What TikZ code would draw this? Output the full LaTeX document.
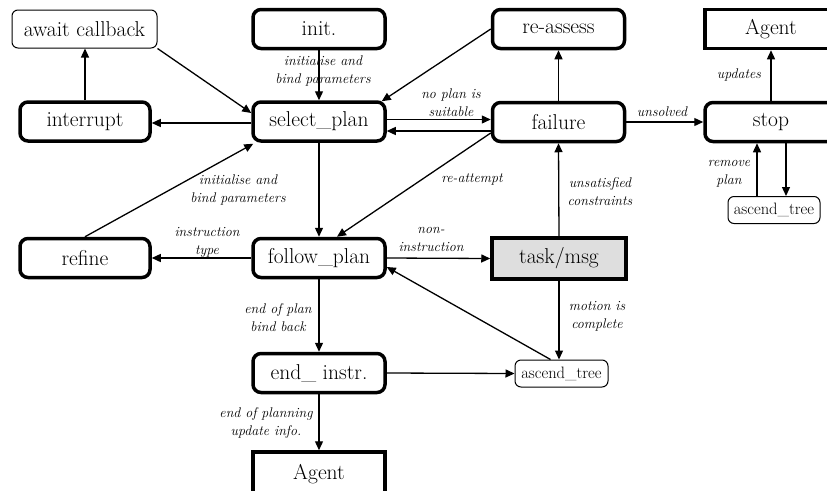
\documentclass[tikz,border=0pt]{standalone}
\usetikzlibrary{arrows.meta}
\begin{document}
\begin{tikzpicture}[x=1pt,y=-1pt,
  every node/.style={font=\rmfamily\fontsize{21.5}{26}\selectfont, inner sep=0pt, align=center},
  state/.style={draw, line width=3.5pt, rounded corners=8pt, minimum width=132pt, minimum height=39pt},
  sink/.style={draw, line width=3.5pt, minimum width=132pt, minimum height=39pt},
  light/.style={draw, line width=1pt, rounded corners=6pt, minimum height=27pt},
  small/.style={font=\rmfamily\fontsize{16.5}{20}\selectfont},
  lbl/.style={font=\rmfamily\fontsize{14}{18}\selectfont\itshape},
  conn/.style={line width=1.3pt, -{Triangle[length=9pt,width=8pt]}},
]
\useasboundingbox (0,0) rectangle (827,490);
\clip (0,0) rectangle (827,490);

% states
\node[light, minimum width=145pt, minimum height=38pt] (await) at (84.5,29) {await callback};
\node[state] (init) at (319,29) {init.};
\node[state] (reassess) at (558.5,29) {re-assess};
\node[sink] (agenttop) at (771,29) {Agent};
\node[state, minimum width=130pt] (interrupt) at (85,121.5) {interrupt};
\node[state] (select) at (319,121.5) {select\_plan};
\node[state] (failure) at (558.5,122) {failure};
\node[state] (stop) at (771,122) {stop};
\node[light, small, minimum width=92pt] (ascR) at (774,210) {ascend\_tree};
\node[state, minimum width=130pt] (refine) at (85,258) {refine};
\node[state] (follow) at (319,258) {follow\_plan};
\node[sink, fill={rgb,255:red,222;green,222;blue,222}, minimum width=134pt, minimum height=41pt] (task) at (559,258.5) {task/msg};
\node[state] (endinstr) at (319,373) {end\_ instr.};
\node[sink, minimum height=44pt] (agentbot) at (319,474) {Agent};
\node[light, small, minimum width=93pt] (ascM) at (561.5,373.5) {ascend\_tree};

% transitions
\draw[conn] (await.south east) -- ([yshift=8.5pt]select.west);
\draw[conn] (interrupt.north) -- (await.south -| interrupt.north);
\draw[conn] ([yshift=-1.5pt]select.west) -- ([yshift=-1.5pt]interrupt.east);
\draw[conn] (init.south) -- (select.north);
\draw[conn] (reassess.west) -- ([xshift=-5pt,yshift=-1pt]select.north east);
\draw[conn] ([yshift=2pt]select.east) -- ([yshift=2pt]select.east -| failure.west);
\draw[conn] ([yshift=-9pt]failure.west) -- ([yshift=-9pt]failure.west -| select.east);
\draw[conn] (failure.north) -- (reassess.south);
\draw[conn] (failure.east) -- (stop.west);
\draw[conn] (stop.north) -- (agenttop.south);
\draw[conn] ([xshift=15pt]stop.south) -- ([xshift=12pt]ascR.north);
\draw[conn] ([xshift=-17pt]ascR.north) -- ([xshift=-14pt]stop.south);
\draw[conn] ([yshift=-11pt]failure.west) -- ([xshift=18pt]follow.north);
\draw[conn] (select.south) -- (follow.north);
\draw[conn] (refine.north) -- ([xshift=2pt,yshift=-1pt]select.south west);
\draw[conn] (follow.west) -- (refine.east);
\draw[conn] (follow.east) -- (task.west);
\draw[conn] (task.north) -- (failure.south);
\draw[conn] (task.south) -- (task.south |- ascM.north);
\draw[conn] ([xshift=-11pt]ascM.north) -- ([yshift=-9pt]follow.east);
\draw[conn] (follow.south) -- (endinstr.north);
\draw[conn] (endinstr.east) -- (ascM.west);
\draw[conn] (endinstr.south) -- (agentbot.north);

% labels
\node[lbl] (l1) at (323,71) {initialise and\\bind parameters};
\node[lbl] (l2) at (451,102.5) {no plan is\\suitable};
\node[lbl] (l3) at (472,179) {re-attempt};
\node[lbl] (l4) at (662,112) {unsolved};
\node[lbl] (l5) at (739,75) {updates};
\node[lbl] (l6) at (729,174) {remove\\plan};
\node[lbl] (l7) at (600,191.5) {unsatisfied\\constraints};
\node[lbl] (l8) at (238,190) {initialise and\\bind parameters};
\node[lbl] (l9) at (207,242) {instruction\\type};
\node[lbl] (l10) at (431,239) {non-\\instruction};
\node[lbl] (l11) at (597,316.5) {motion is\\complete};
\node[lbl] (l12) at (278,318) {end of plan\\bind back};
\node[lbl] (l13) at (266,422.5) {end of planning\\update info.};
\end{tikzpicture}
\end{document}
